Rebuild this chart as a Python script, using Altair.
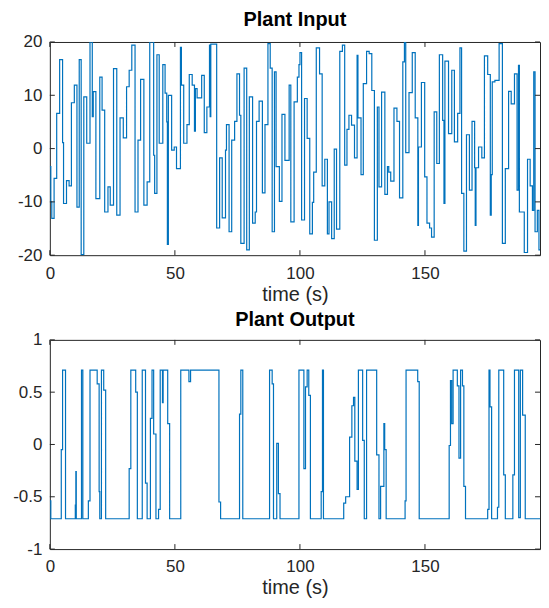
import altair as alt
import pandas as pd

X_MAX = 196
x_ticks = [0, 50, 100, 150]
in_yticks = [-20, -10, 0, 10, 20]
out_yticks = [-1, -0.5, 0, 0.5, 1]

in_t = [0, 0.39, 0.78, 1.70, 2.74, 3.92, 5.09, 5.48, 6.66, 7.70, 8.62, 9.79, 10.84, 11.75, 12.53,
        13.58, 14.75, 16.06, 16.97, 17.36, 18.41, 19.97, 20.89, 21.93, 23.24, 24.15, 25.46, 26.76,
        28.07, 29.37, 30.68, 31.72, 32.77, 34.07, 35.25, 36.29, 37.60, 38.90, 39.95, 41.51, 41.91,
        42.82, 43.73, 45.17, 46.08, 46.74, 47.0, 47.39, 48.70, 49.74, 50.65, 52.22, 52.61, 53.53,
        54.83, 55.75, 56.92, 57.83, 58.2, 58.88, 60.71, 61.75, 62.79, 63.84, 64.1, 64.36, 66.71,
        67.89, 68.93, 70.24, 70.63, 71.67, 72.72, 73.89, 74.81, 75.85, 76.37, 77.68, 78.72, 79.77,
        81.07, 82.12, 82.64, 83.68, 84.99, 86.03, 87.21, 88.12, 88.90, 89.82, 90.47, 91.78, 92.82,
        94.0, 95.69, 96.36, 97.67, 98.97, 99.62, 100.02, 100.67, 101.84, 102.89, 103.93, 104.98,
        105.50, 106.54, 107.85, 108.89, 109.94, 110.98, 111.63, 112.68, 113.72, 114.64, 115.94,
        116.99, 117.90, 118.81, 119.60, 120.64, 121.82, 122.86, 123.2, 124.43, 125.34, 126.65,
        127.69, 128.74, 129.78, 130.96, 131.61, 132.65, 133.96, 135.0, 135.52, 136.31, 137.61,
        138.79, 139.83, 141.14, 141.79, 142.31, 143.62, 144.92, 146.10, 147.15, 147.4, 148.58,
        149.89, 150.80, 151.85, 152.63, 153.68, 154.72, 155.76, 157.07, 157.6, 157.98, 159.42,
        160.72, 161.77, 163.07, 163.99, 164.64, 165.55, 166.60, 167.77, 168.82, 169.86, 170.1,
        170.4, 171.43, 172.73, 173.78, 175.08, 176.13, 176.5, 176.91, 177.96, 179.65, 180.96,
        182.13, 183.44, 184.48, 185.79, 186.83, 187.4, 187.75, 189.71, 191.01, 192.06, 192.97,
        193.5, 194.02, 194.94, 195.58]
in_v = [-3.4, -10, -13.1, -5.6, 6.6, 16.7, 1.1, -10.3, -6, -7, 8.6, 11.9, -11, 16.7, -19.9,
        9.7, 1, 20, 6, 10.7, -9.4, 13.4, 7.2, -11.9, -7.2, -10.6, 15, -12.5,
        5.75, 2, 11.6, 14.7, 19.4, -11.9, 1.6, 13, -10.6, -6.25, 20, -1.25, -8.4,
        17.6, 1, 15.75, 10.4, 5, -18, 10, -0.3, 0.3, -3.75, 19, 11.9, 1,
        4.5, 13.9, 11.9, 3.25, 11.25, 9.5, 13.75, 3, 7.8, 19.4, 6, 19.6, -14.9,
        -1.75, -13, -0.3, 4.5, -15.6, 1.6, 5.1, 14, 6.25, -17.8, 15.1, -19, 9.7,
        -14, -11.9, 5.1, 8.9, -8.3, 4.5, 19.7, 15.1, -15.6, 14.4, -3.4, -9.9, 6.4,
        -2.2, 11.9, -13.75, 8.75, 13.4, 15.75, 18, -13.4, 9.4, 1.9, -16, -10.1,
        -4.4, 18.9, 14, -7, -2, -16, -10, -16.9, -0.1, -15.1, 18.25,
        19.4, -3.1, 3.6, 6.25, 4.4, -1.75, 17.5, 5.75, -4.9, 12.2, 18.25,
        17.8, 10.9, -17.2, 7.8, -7.2, 10.6, -8.6, -3.4, -4.4, -6.1, 7.6,
        5.1, -9.25, 16.25, 20, -0.75, 10.5, 18, 5.75, -14.4, 0.3, 12.4,
        -5.3, -14, -14.9, -16.6, 6.9, -2.8, 17.6, 5.3, -10.3, 16.4, 2.8,
        14.7, 1.25, 6.6, 18.9, -8.4, -19.25, 2.6, -7.8, 5.1, -3.6, -14.4,
        -3.6, 0.3, -1.75, 17.4, 13.9, -12.5, -4.9, 12.5, 12.8, 19.7, -17.8,
        -3.75, 10.75, 8.4, 14, -7.8, 15.6, -11.9, -19.5, -2, -7, -11.6,
        14.4, -15.6, -11.6, -19]

out_t = [0, 0.39, 4.57, 5.09, 6.27, 10.18, 10.4, 10.57, 12.66, 13.19, 15.40, 16.06, 18.93, 19.71,
         19.97, 20.63, 21.54, 22.32, 31.72, 32.38, 34.33, 34.99, 36.95, 38.25, 38.90, 40.21, 40.86,
         41.51, 42.43, 43.47, 44.13, 45.04, 45.3, 47.13, 47.9, 52.35, 55.61, 56.27, 67.62, 68.28,
         75.85, 76.37, 77.15, 87.86, 88.90, 89.43, 90.73, 91.39, 92.04, 99.61, 101.58, 102.23,
         102.89, 103.54, 104.19, 108.50, 109.02, 109.41, 117.51, 118.29, 119.86, 120.77, 121.43,
         121.95, 122.86, 123.38, 125.08, 125.73, 126.65, 130.69, 131.61, 132.26, 133.57, 133.9,
         134.48, 142.05, 142.44, 147.1, 147.7, 159.68, 160.20, 160.7, 161.25, 162.94, 163.6,
         164.25, 165.0, 165.55, 166.21, 175.08, 175.61, 176.0, 176.65, 179.0, 179.52, 181.48,
         182.13, 185.14, 185.79, 187.49, 188.14, 189.05, 190.10]
out_v = [-0.54, -0.71, -0.05, 0.71, -0.71, -0.58, -0.26, -0.71, 0.71, -0.71, -0.54, 0.71, 0.58, -0.45,
         -0.71, 0.71, 0.52, -0.71, -0.23, 0.71, 0.5, -0.71, 0.71, -0.37, -0.71, 0.25, 0.71,
         0.1, -0.71, -0.62, 0.71, 0.4, 0.71, 0.2, -0.71, 0.71, 0.6, 0.71, -0.55, -0.71,
         0.29, 0.71, -0.71, 0.71, 0.58, -0.71, 0.01, -0.47, -0.71, 0.71, -0.23, 0.55,
         0.71, 0.47, -0.71, -0.45, 0.71, -0.71, -0.56, -0.5, 0.07, 0.37, 0.45,
         -0.16, -0.43, 0.71, 0.04, -0.71, 0.71, -0.1, -0.71, -0.4, 0.2, -0.05,
         -0.71, -0.54, 0.71, 0.6, -0.71, -0.01, 0.61, 0.2, 0.71, 0.56, -0.13,
         0.71, 0.56, -0.4, -0.71, -0.62, 0.71, 0.36, -0.71, -0.6, 0.71, -0.29,
         -0.71, -0.29, 0.71, -0.7, 0.71, 0.28, -0.71]

FONT = "Liberation Sans"
AX = "#262626"
W = 492
LINE = "#0072BD"
LABEL_EXPR = "datum.value < 0 ? '-' + abs(datum.value) : '' + datum.value"


def panel(t, v, title, ydom, yticks, height, title_offset):
    df = pd.DataFrame({"t": t + [X_MAX], "v": v + [v[-1]]})
    xs = alt.Scale(domain=[0, X_MAX], nice=False, zero=False)
    ys = alt.Scale(domain=ydom, nice=False, zero=False)
    xaxis = alt.Axis(title="time (s)", values=x_ticks, labelExpr=LABEL_EXPR, labelFlush=False,
                     labelPadding=10, titlePadding=3)
    yaxis = alt.Axis(title=None, values=yticks, labelExpr=LABEL_EXPR, labelFlush=False,
                     labelPadding=8, minExtent=41, maxExtent=41)
    line = alt.Chart(df).mark_line(
        interpolate="step-after", color=LINE, strokeWidth=1.2, clip=True
    ).encode(
        x=alt.X("t:Q", scale=xs, axis=xaxis),
        y=alt.Y("v:Q", scale=ys, axis=yaxis),
    )
    xt = pd.DataFrame({"t": x_ticks})
    yt = pd.DataFrame({"v": yticks})
    tb = alt.Chart(xt).mark_rule(color=AX, strokeWidth=1).encode(
        x=alt.X("t:Q", scale=xs, axis=xaxis), y=alt.value(height), y2=alt.value(height - 5))
    tt = alt.Chart(xt).mark_rule(color=AX, strokeWidth=1).encode(
        x=alt.X("t:Q", scale=xs, axis=xaxis), y=alt.value(0), y2=alt.value(5))
    tl = alt.Chart(yt).mark_rule(color=AX, strokeWidth=1).encode(
        y=alt.Y("v:Q", scale=ys, axis=yaxis), x=alt.value(0), x2=alt.value(5))
    tr = alt.Chart(yt).mark_rule(color=AX, strokeWidth=1).encode(
        y=alt.Y("v:Q", scale=ys, axis=yaxis), x=alt.value(W), x2=alt.value(W - 5))
    return alt.layer(line, tb, tt, tl, tr).properties(
        width=W, height=height,
        title=alt.TitleParams(title, fontSize=20, fontWeight="bold", font=FONT,
                              color="black", anchor="middle", offset=title_offset),
    )


top = panel(in_t, in_v, "Plant Input", [-20, 20], in_yticks, 214, 3)
bottom = panel(out_t, out_v, "Plant Output", [-1, 1], out_yticks, 210, 1)

chart = alt.vconcat(top, bottom, spacing=4).properties(
    padding={"left": 0, "top": 0, "right": 0, "bottom": 0}
).configure_view(
    stroke=AX, strokeWidth=1
).configure_axis(
    labelFont=FONT, labelFontSize=17, labelColor=AX,
    titleFont=FONT, titleFontSize=20, titleFontWeight="normal", titleColor=AX,
    domain=False, ticks=False, tickSize=0, grid=False,
)

chart.save("out.html", embed_options={"renderer": "svg", "actions": False})
